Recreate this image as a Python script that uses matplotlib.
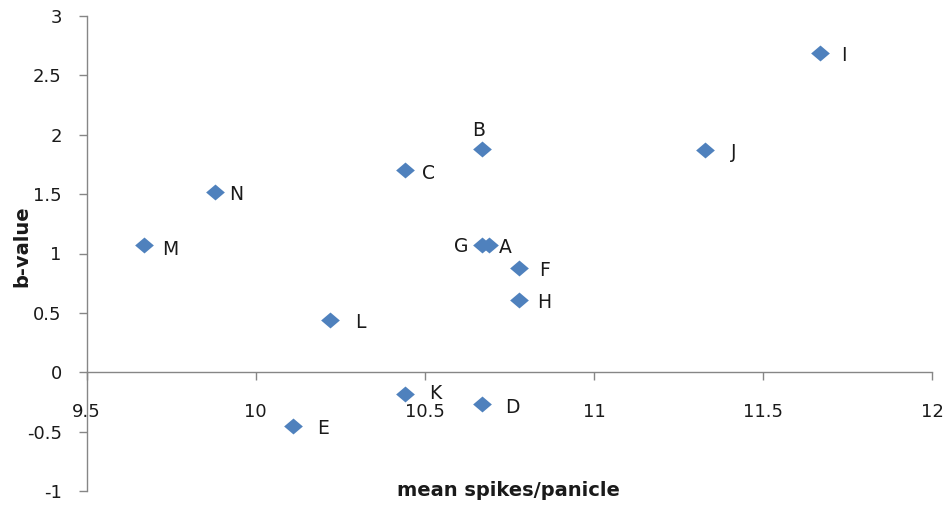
import matplotlib
matplotlib.use("Agg")
import matplotlib.pyplot as plt

# Genotype means: spikes per panicle vs. regression coefficient (b-value)
labels = ["A", "B", "C", "D", "E", "F", "G", "H", "I", "J", "K", "L", "M", "N"]
spikes = [10.69, 10.67, 10.44, 10.67, 10.11, 10.78, 10.67, 10.78, 11.67, 11.33, 10.44, 10.22, 9.67, 9.88]
b_value = [1.07, 1.88, 1.70, -0.27, -0.45, 0.88, 1.07, 0.61, 2.69, 1.87, -0.18, 0.44, 1.07, 1.52]

# label placement (points) relative to each marker
offsets = {
    "A": (12, -2), "B": (-3, 13), "C": (17, -2), "D": (22, -2), "E": (22, -2),
    "F": (18, -2), "G": (-15, -1), "H": (18, -2), "I": (17, -2), "J": (20, -2),
    "K": (22, 0), "L": (22, -2), "M": (19, -3), "N": (15, -2),
}

x_ticks = [9.5, 10, 10.5, 11, 11.5, 12]
y_ticks = [-1, -0.5, 0, 0.5, 1, 1.5, 2, 2.5, 3]

plt.rcParams["font.family"] = ["DejaVu Sans"]
axis_grey = "#868686"
point_blue = "#4F81BD"

fig = plt.figure(figsize=(9.51, 5.07), dpi=100)
ax = fig.add_axes([0.0912, 0.0316, 0.980 - 0.0912, 0.9684 - 0.0316])

diamond = [(-1, 0), (0, 0.85), (1, 0), (0, -0.85), (-1, 0)]
ax.scatter(spikes, b_value, marker=diamond, s=13.5 ** 2, color=point_blue,
           linewidths=0, zorder=3, clip_on=False)

for lab, x, y in zip(labels, spikes, b_value):
    dx, dy = offsets[lab]
    ax.annotate(lab, (x, y), xytext=(dx, dy), textcoords="offset points",
                ha="center", va="center", fontsize=13.5, color="#1a1a1a")

ax.set_xlim(9.5, 12)
ax.set_ylim(-1, 3)
ax.set_xticks(x_ticks)
ax.set_yticks(y_ticks)
ax.set_xticklabels([f"{v:g}" for v in x_ticks])
ax.set_yticklabels([f"{v:g}" for v in y_ticks])

for side in ("top", "right"):
    ax.spines[side].set_visible(False)
ax.spines["bottom"].set_position(("data", 0))
for side in ("bottom", "left"):
    ax.spines[side].set_color(axis_grey)
    ax.spines[side].set_linewidth(1.0)

ax.tick_params(axis="x", direction="out", length=5.5, width=1.0, color=axis_grey,
               pad=17, labelsize=13, labelcolor="#1a1a1a")
ax.tick_params(axis="y", direction="out", length=6, width=1.0, color=axis_grey,
               pad=12, labelsize=13, labelcolor="#1a1a1a")

fig.text(22 / 951, 1 - 246 / 507, "b-value", rotation=90, ha="center", va="center",
         fontsize=14, fontweight="bold", color="#1a1a1a")
fig.text(508 / 951, 1 - 490 / 507, "mean spikes/panicle", ha="center", va="center",
         fontsize=14, fontweight="bold", color="#1a1a1a")

fig.savefig("out.png", dpi=100, facecolor="white")
